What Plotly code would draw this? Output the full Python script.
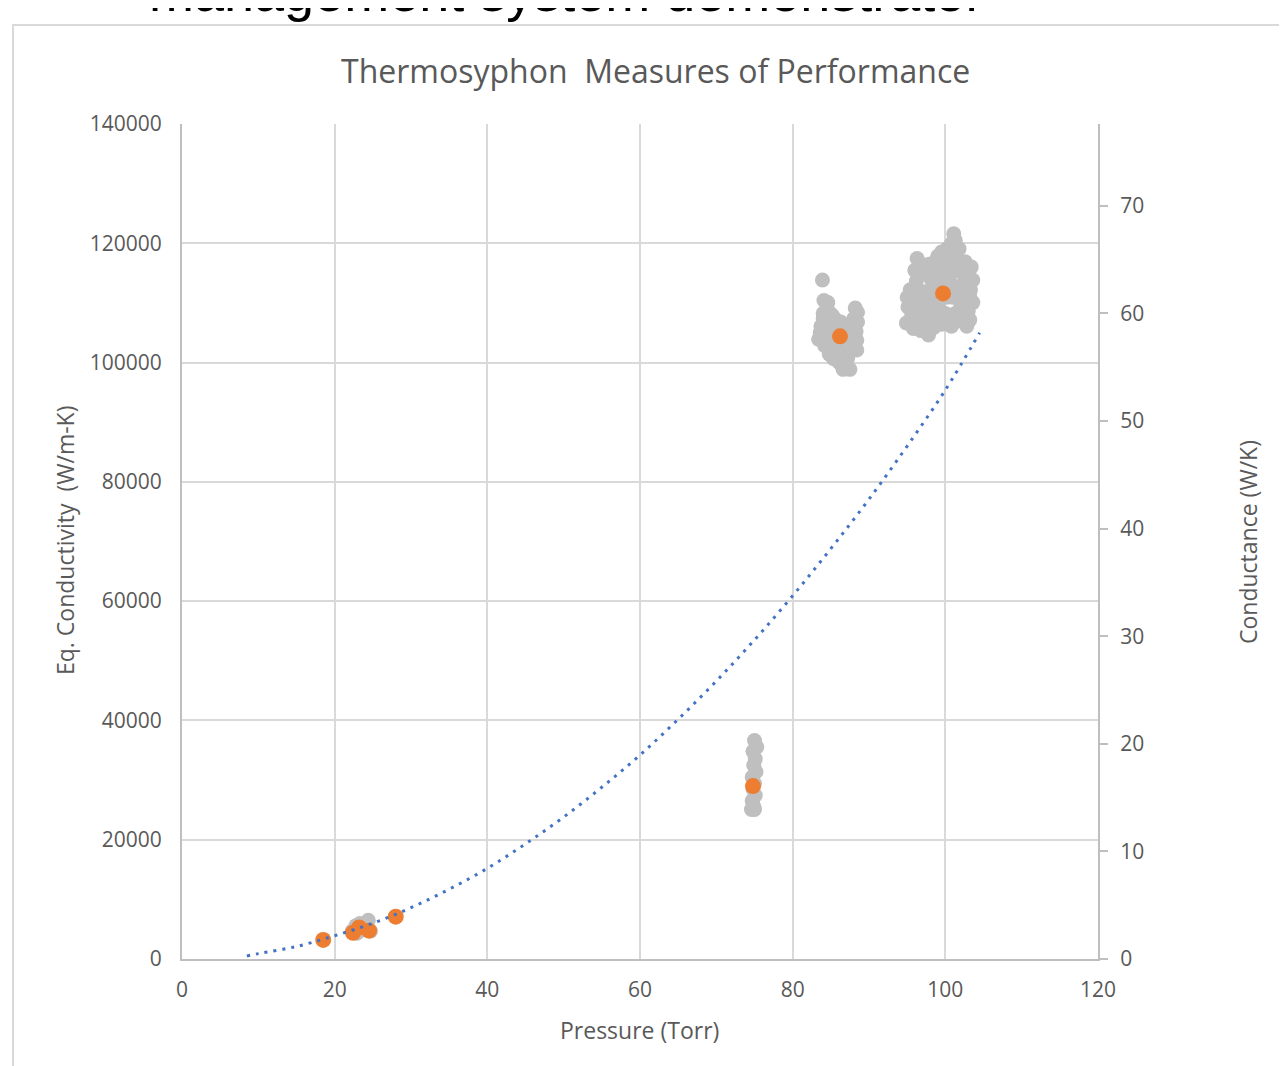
import plotly.graph_objects as go

# ---------------- data ----------------
# gray measurement points: Pressure (Torr), Conductance (W/K)
gray_p = [22.3, 22.8, 23.3, 23.9, 24.4, 24.7, 23.6, 22.9,
          75.0, 75.3, 74.8, 75.1, 74.9, 75.2, 74.7, 75.0, 74.8, 75.1, 74.7, 74.9, 74.6, 75.0,
          83.9, 84.1, 84.5, 84.0, 85.2, 85.8, 84.3, 85.0, 86.0, 86.7, 87.0, 88.5, 88.5, 88.3,
          88.4, 87.8, 88.4, 83.6, 83.4, 84.2, 85.0, 85.6, 84.8, 86.3, 87.3, 86.0, 87.0, 86.6,
          87.5, 85.7, 86.8, 87.6, 88.0,
          84.5, 85.5, 86.5, 87.5, 84.0, 84.8, 85.5, 86.3, 87.2, 87.9, 88.2, 84.6, 84.9, 83.7,
          84.7, 85.3, 86.2, 87.2, 88.0, 86.0, 85.3, 86.3, 87.2,
          101.1, 100.8, 100.2, 99.5, 99.0, 96.3, 97.3, 98.0, 98.5, 99.6, 100.5, 101.5, 102.6,
          103.4, 103.6, 103.3, 103.6, 103.2, 102.8, 100.8, 95.4, 96.2, 95.1, 94.9, 95.8, 96.8,
          97.8, 98.2, 97.0, 96.2, 97.2, 98.2, 98.7, 99.2, 100.6, 101.7, 102.0, 101.3, 102.5,
          100.2, 99.3, 96.0, 101.8, 97.5, 95.6,
          96.5, 97.5, 98.5, 99.5, 100.0, 101.0, 102.5, 103.0, 102.3, 101.5, 99.8, 100.5, 97.8,
          96.8, 95.5, 95.0, 96.0, 97.0, 98.0, 99.0, 100.0, 101.0, 102.0, 103.0, 102.8, 103.2,
          101.3, 100.5, 98.4, 97.8, 96.8]
gray_c = [2.6, 3.1, 3.3, 3.0, 3.6, 2.6, 2.7, 2.4,
          20.3, 19.7, 19.3, 18.6, 18.0, 17.4, 16.9, 16.3, 15.8, 15.2, 14.7, 14.2, 13.9, 13.9,
          63.1, 61.2, 60.5, 60.0, 59.8, 59.3, 59.0, 58.5, 58.6, 58.8, 58.0, 60.1, 59.2, 58.3,
          57.5, 56.8, 56.6, 58.2, 57.6, 57.0, 57.2, 56.5, 56.2, 56.0, 56.2, 55.5, 55.2, 54.8,
          54.8, 57.6, 57.5, 58.3, 59.5,
          58.0, 58.0, 58.0, 57.5, 59.5, 59.5, 59.5, 59.2, 58.7, 58.9, 60.5, 61.0, 60.0, 58.8,
          57.5, 56.8, 57.0, 57.0, 57.2, 56.3, 55.8, 55.3, 55.8,
          67.4, 66.5, 66.0, 65.7, 65.3, 65.1, 64.5, 64.6, 64.0, 64.4, 64.8, 65.2, 64.8,
          64.3, 63.1, 62.2, 61.0, 59.4, 58.8, 58.8, 62.2, 63.0, 60.6, 59.1, 58.6, 58.4,
          58.0, 59.7, 59.8, 61.0, 62.0, 63.1, 61.2, 62.6, 63.5, 62.5, 60.6, 60.0, 63.5,
          61.5, 60.3, 64.0, 66.0, 60.8, 59.8,
          59.5, 59.0, 58.7, 59.0, 60.0, 61.5, 61.5, 60.2, 59.5, 59.3, 62.8, 62.2, 63.5,
          63.8, 61.0, 61.5, 62.0, 61.0, 62.0, 63.8, 64.2, 64.0, 64.0, 63.5, 62.5, 61.6,
          66.8, 65.4, 60.4, 60.2, 60.0]

# orange averaged points: Pressure (Torr), Eq. Conductivity (W/m-K)
avg_p = [18.5, 22.4, 23.2, 24.5, 28.0, 74.8, 86.2, 99.7]
avg_k = [3200, 4400, 5300, 4750, 7100, 29000, 104400, 111600]

# dotted trendline
trend_p = [8.5, 10, 15, 20, 25, 30, 35, 40, 45, 50, 55, 60, 65, 70, 75, 80, 85, 90, 95, 100, 104.5]
trend_k = [500, 900, 2100, 3900, 6000, 8600, 11700, 15200, 19300, 23800, 28800, 34200,
           40200, 46600, 53500, 60900, 68800, 77100, 86000, 95400, 105000]

x_ticks = [0, 20, 40, 60, 80, 100, 120]
left_ticks = [0, 20000, 40000, 60000, 80000, 100000, 120000, 140000]
right_ticks = [0, 10, 20, 30, 40, 50, 60, 70]

FONT = "Open Sans"
TXT = "#595959"
GRID = "#D9D9D9"
AXL = "#BFBFBF"

fig = go.Figure()
fig.add_trace(go.Scatter(x=gray_p, y=gray_c, mode="markers", yaxis="y",
                         marker=dict(color="#BFBFBF", size=15, line=dict(width=0)),
                         name="Conductance", showlegend=False))
fig.add_trace(go.Scatter(x=avg_p, y=avg_k, mode="markers", yaxis="y2",
                         marker=dict(color="#ED7D31", size=16, line=dict(width=0)),
                         name="Eq. Conductivity", showlegend=False))
fig.add_trace(go.Scatter(x=trend_p, y=trend_k, mode="lines", yaxis="y2",
                         line=dict(color="#4472C4", width=3, dash="3px,6px", shape="spline"),
                         name="Trend", showlegend=False))

OFF = 8  # page body margin
W, H = 1287 - OFF, 1066 - OFF
L, R, T = 182 - OFF, 1287 - 1098, 124 - OFF
B = 1066 - 959
pw, ph = W - L - R, H - T - B

def px(x):
    return (x - OFF - L) / pw

def py(y):
    return (T + ph - (y - OFF)) / ph

fig.update_layout(
    width=W, height=H,
    margin=dict(l=L, r=R, t=T, b=B, pad=0),
    paper_bgcolor="white", plot_bgcolor="white",
    font=dict(family=FONT, color=TXT, size=21),
    xaxis=dict(range=[0, 120], tickvals=x_ticks, showgrid=True, gridcolor=GRID, gridwidth=2,
               showline=True, linecolor=AXL, linewidth=2, zeroline=False, ticks="",
               tickfont=dict(size=21, color=TXT), ticklabelstandoff=11),
    yaxis=dict(range=[0, 77.6], tickvals=right_ticks, side="right", showgrid=False,
               showline=True, linecolor=AXL, linewidth=2, zeroline=False,
               ticks="outside", ticklen=8, tickcolor=AXL, tickwidth=2,
               tickfont=dict(size=21, color=TXT), ticklabelstandoff=8),
    yaxis2=dict(range=[0, 140000], tickvals=left_ticks, tickformat="d", side="left",
                overlaying="y", showgrid=True, gridcolor=GRID, gridwidth=2,
                showline=True, linecolor=AXL, linewidth=2, zeroline=False, ticks="",
                tickfont=dict(size=21, color=TXT), ticklabelstandoff=14),
    shapes=[dict(type="rect", xref="paper", yref="paper",
                 x0=px(13), x1=px(1287 + 40), y0=py(1066 + 40), y1=py(25),
                 line=dict(color="#D9D9D9", width=2), fillcolor="rgba(0,0,0,0)", layer="below")],
    annotations=[
        dict(text="Thermosyphon  Measures of Performance", xref="paper", yref="paper",
             x=px(655), y=py(70), showarrow=False, xanchor="center", yanchor="middle",
             font=dict(size=32, color=TXT, family=FONT)),
        dict(text="Eq. Conductivity  (W/m-K)", xref="paper", yref="paper",
             x=px(65), y=py(541), showarrow=False, textangle=-90,
             xanchor="center", yanchor="middle", font=dict(size=23, color=TXT, family=FONT)),
        dict(text="Conductance (W/K)", xref="paper", yref="paper",
             x=px(1248), y=py(542), showarrow=False, textangle=-90,
             xanchor="center", yanchor="middle", font=dict(size=23, color=TXT, family=FONT)),
        dict(text="Pressure (Torr)", xref="paper", yref="paper",
             x=px(639), y=py(1030), showarrow=False,
             xanchor="center", yanchor="middle", font=dict(size=23, color=TXT, family=FONT)),
        dict(text="management system demonstrator", xref="paper", yref="paper",
             x=px(566), y=py(-8), showarrow=False,
             xanchor="center", yanchor="middle", font=dict(size=54, color="black", family="Liberation Sans")),
    ],
)

fig.write_html("out.html")
